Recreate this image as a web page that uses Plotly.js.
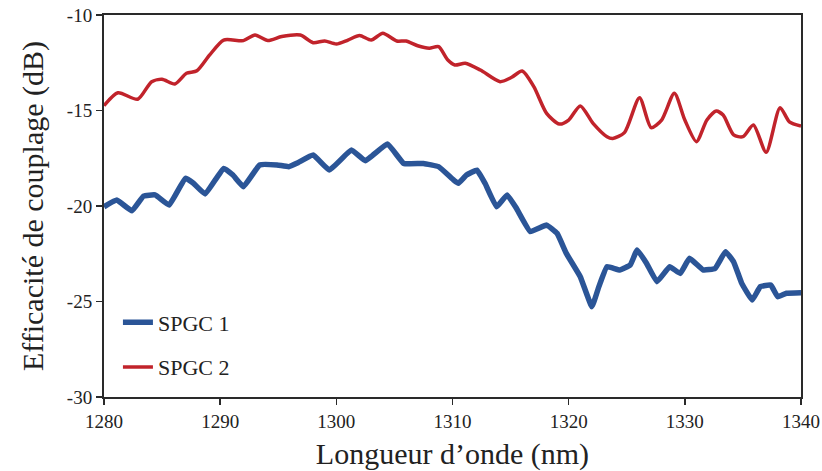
<!DOCTYPE html>
<html>
<head>
<meta charset="utf-8">
<script src="https://cdn.plot.ly/plotly-3.0.1.min.js"></script>
<style>html,body{margin:0;padding:0;background:#fff;}#chart{width:822px;height:471px;}</style>
</head>
<body>
<div id="chart"></div>
<script>
// SPGC 1 (blue)
const wl1 = [1280.0, 1281.1, 1282.4, 1283.4, 1284.4, 1285.6, 1287.0, 1287.7, 1288.7, 1290.3, 1291.1, 1292.0, 1293.4, 1294.9, 1295.9, 1296.7, 1298.0, 1299.4, 1301.3, 1302.5, 1304.4, 1305.8, 1307.5, 1308.8, 1310.1, 1310.5, 1311.2, 1312.1, 1312.8, 1313.8, 1314.7, 1315.5, 1316.7, 1318.1, 1319.0, 1319.8, 1321.0, 1322.0, 1322.6, 1323.3, 1324.4, 1325.3, 1325.9, 1326.7, 1327.6, 1328.7, 1329.6, 1330.4, 1331.6, 1332.6, 1333.5, 1334.2, 1334.9, 1335.8, 1336.5, 1337.4, 1338.0, 1338.75, 1340.0];
const spgc1 = [-20.04, -19.69, -20.25, -19.48, -19.42, -19.95, -18.55, -18.81, -19.37, -18.03, -18.38, -18.99, -17.85, -17.85, -17.94, -17.73, -17.33, -18.12, -17.07, -17.63, -16.75, -17.77, -17.77, -17.94, -18.64, -18.81, -18.38, -18.12, -18.81, -20.04, -19.42, -20.12, -21.34, -21.0, -21.43, -22.48, -23.70, -25.27, -24.22, -23.18, -23.35, -23.09, -22.30, -23.0, -23.96, -23.18, -23.53, -22.74, -23.35, -23.27, -22.39, -22.92, -24.05, -24.92, -24.22, -24.14, -24.75, -24.57, -24.54];
// SPGC 2 (red)
const wl2 = [1280.0, 1281.2, 1282.9, 1284.1, 1285.0, 1286.1, 1287.1, 1288.0, 1289.1, 1290.3, 1292.0, 1293.0, 1294.1, 1295.3, 1296.9, 1298.0, 1299.0, 1300.0, 1301.0, 1302.0, 1303.0, 1304.0, 1305.2, 1306.0, 1307.0, 1308.0, 1308.8, 1309.6, 1310.2, 1311.1, 1312.4, 1314.1, 1315.1, 1316.0, 1317.0, 1318.1, 1319.2, 1320.0, 1321.0, 1322.1, 1323.3, 1323.8, 1324.8, 1326.1, 1327.1, 1328.0, 1329.1, 1330.0, 1331.0, 1331.9, 1332.7, 1333.3, 1334.2, 1335.0, 1335.9, 1337.0, 1338.2, 1339.0, 1340.0];
const spgc2 = [-14.75, -14.07, -14.41, -13.49, -13.37, -13.61, -13.05, -12.92, -12.09, -11.31, -11.34, -11.05, -11.34, -11.13, -11.05, -11.45, -11.36, -11.52, -11.31, -11.07, -11.31, -10.96, -11.36, -11.36, -11.61, -11.74, -11.66, -12.36, -12.62, -12.53, -12.88, -13.49, -13.26, -12.93, -13.75, -15.15, -15.71, -15.50, -14.76, -15.67, -16.37, -16.46, -16.16, -14.33, -15.90, -15.50, -14.10, -15.50, -16.63, -15.50, -15.03, -15.24, -16.28, -16.37, -15.76, -17.19, -14.85, -15.59, -15.81];
const names = ["SPGC 1", "SPGC 2"];
const xTicks = [1280, 1290, 1300, 1310, 1320, 1330, 1340];
const xTickText = ["1280", "1290", "1300", "1310", "1320", "1330", "1340"];
const yTicks = [-30, -25, -20, -15, -10];
const yTickText = ["-30", "-25", "-20", "-15", "-10"];

const font = '"Liberation Serif"';
const traces = [
  {x: wl1, y: spgc1, name: names[0], type: "scatter", mode: "lines", legendgroup: "a",
   line: {color: "#2B5597", width: 5.5, shape: "spline", smoothing: 0.3}},
  {x: wl2, y: spgc2, name: names[1], type: "scatter", mode: "lines", legendgroup: "b",
   line: {color: "#C1232B", width: 3.5, shape: "spline", smoothing: 0.7}}
];
const axisCommon = {
  showline: true, mirror: true, linecolor: "#2a2a2a", linewidth: 2,
  ticks: "outside", ticklen: 6, tickwidth: 1.5, tickcolor: "#2a2a2a",
  showgrid: false, zeroline: false,
  tickfont: {family: font, size: 19, color: "#222"}
};
const layout = {
  width: 822, height: 471,
  margin: {l: 104, r: 21, t: 15, b: 74},
  paper_bgcolor: "#fff", plot_bgcolor: "#fff",
  font: {family: font},
  showlegend: true,
  legend: {x: 0.02, y: 0.25, xanchor: "left", yanchor: "top", bgcolor: "rgba(0,0,0,0)",
           traceorder: "grouped", tracegroupgap: 13,
           font: {family: font, size: 22, color: "#222"}},
  xaxis: Object.assign({}, axisCommon, {
    range: [1280, 1340], tickvals: xTicks, ticktext: xTickText,
    title: {text: "Longueur d’onde (nm)", font: {family: font, size: 30, color: "#222"}, standoff: 12}
  }),
  yaxis: Object.assign({}, axisCommon, {
    range: [-30, -10], tickvals: yTicks, ticktext: yTickText,
    title: {text: "Efficacité de couplage (dB)", font: {family: font, size: 30, color: "#222"}, standoff: 14}
  })
};
Plotly.newPlot("chart", traces, layout, {displayModeBar: false, staticPlot: true});
</script>
</body>
</html>
